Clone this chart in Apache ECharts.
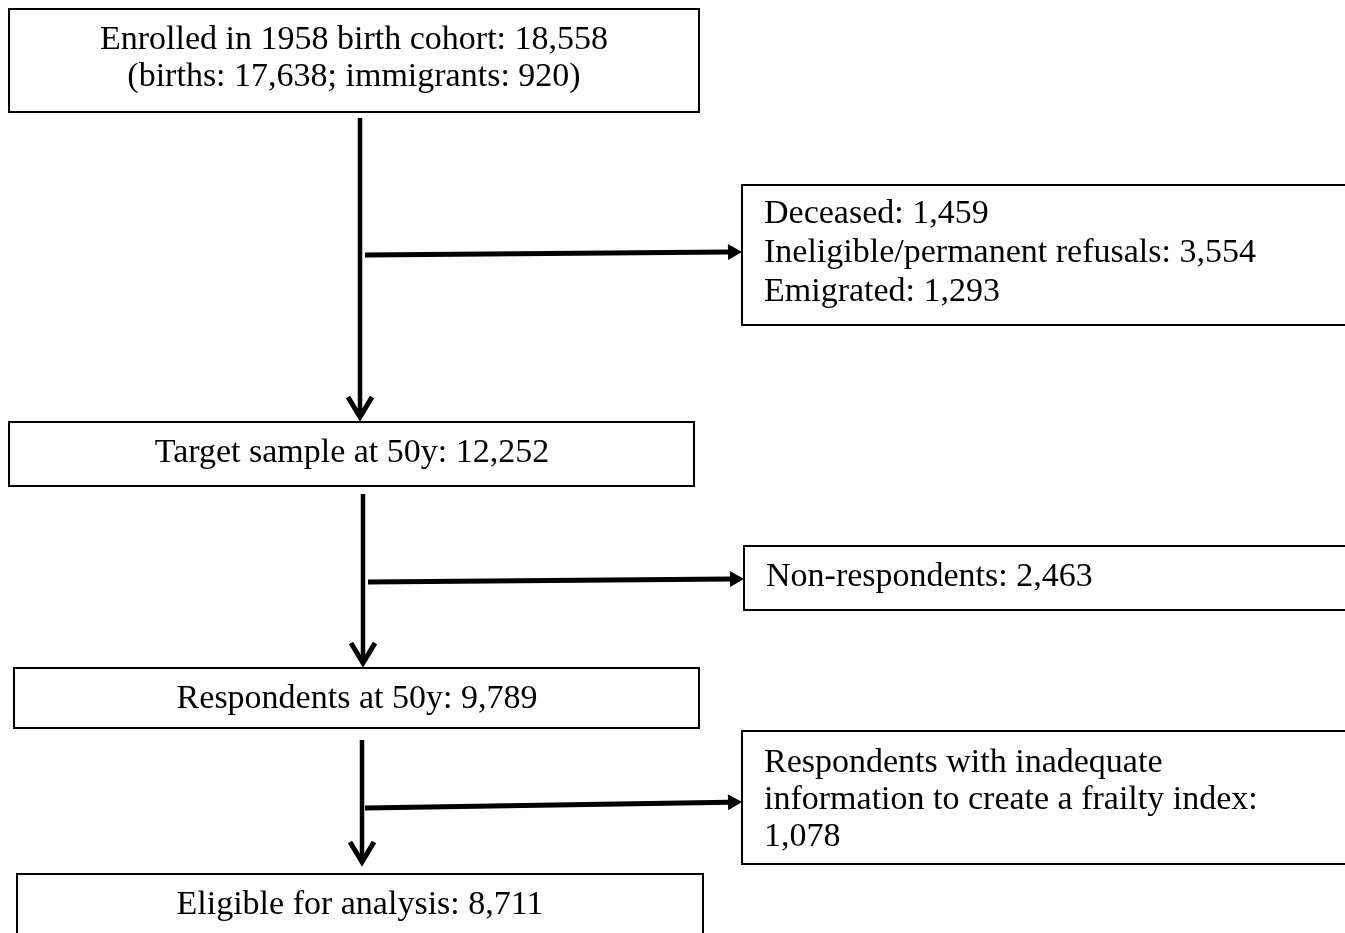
<!DOCTYPE html>
<html>
<head>
<meta charset="utf-8">
<script src="https://cdn.jsdelivr.net/npm/echarts@6/dist/echarts.min.js"></script>
<style>
  html, body { margin: 0; padding: 0; background: #fff; }
  #chart { width: 1345px; height: 933px; }
</style>
</head>
<body>
<div id="chart"></div>
<script>
// counts
var enrolled = 18558, births = 17638, immigrants = 920;
var deceased = 1459, ineligible = 3554, emigrated = 1293;
var targetSample = 12252;
var nonRespondents = 2463;
var respondents = 9789;
var inadequate = 1078;
var eligible = 8711;

function fmt(n) {
    return n.toLocaleString('en-US');
}

var boxTexts = [
    'Enrolled in 1958 birth cohort: ' + fmt(enrolled) + '\n(births: ' + fmt(births) + '; immigrants: ' + fmt(immigrants) + ')',
    'Deceased: ' + fmt(deceased) + '\nIneligible/permanent refusals: ' + fmt(ineligible) + '\nEmigrated: ' + fmt(emigrated),
    'Target sample at 50y: ' + fmt(targetSample),
    'Non-respondents: ' + fmt(nonRespondents),
    'Respondents at 50y: ' + fmt(respondents),
    'Respondents with inadequate\ninformation to create a frailty index:\n' + fmt(inadequate),
    'Eligible for analysis: ' + fmt(eligible)
];

// layout (pixel space of the hidden axes): box corners, text anchor
var boxRects = [
    [9, 9, 699, 112],
    [742, 185, 1352, 325],
    [9, 422, 694, 486],
    [744, 546, 1352, 610],
    [14, 668, 699, 728],
    [742, 731, 1352, 864],
    [17, 874, 703, 940]
];
var textAnchors = [
    [354, 59, 'center', 37],
    [764, 253, 'left', 39],
    [352, 453, 'center', 38],
    [766, 577, 'left', 38],
    [357, 699, 'center', 38],
    [764, 800, 'left', 37],
    [360, 905, 'center', 38]
];
// arrows: x1, y1, x2, y2, head type
var arrows = [
    [360, 118, 360, 420, 'open'],
    [365, 255, 742, 252, 'solid'],
    [363, 494, 363, 666, 'open'],
    [368, 582, 744, 579, 'solid'],
    [362, 740, 362, 865, 'open'],
    [365, 808, 742, 802, 'solid']
];

var myChart = echarts.init(document.getElementById('chart'));

function renderBox(params, api) {
    var i = api.value(0);
    var r = boxRects[i];
    var p1 = api.coord([r[0], r[1]]);
    var p2 = api.coord([r[2], r[3]]);
    var t = textAnchors[i];
    var tp = api.coord([t[0], t[1]]);
    return {
        type: 'group',
        children: [{
            type: 'rect',
            shape: { x: p1[0], y: p1[1], width: p2[0] - p1[0], height: p2[1] - p1[1] },
            style: { fill: '#fff', stroke: '#000', lineWidth: 2 }
        }, {
            type: 'text',
            x: tp[0],
            y: tp[1],
            style: {
                text: boxTexts[i],
                fill: '#000',
                font: '34px "Liberation Serif"',
                align: t[2],
                verticalAlign: 'middle',
                lineHeight: t[3]
            }
        }]
    };
}

function renderArrow(params, api) {
    var a = arrows[api.value(0)];
    var s = api.coord([a[0], a[1]]);
    var e = api.coord([a[2], a[3]]);
    var ang = Math.atan2(e[1] - s[1], e[0] - s[0]);
    var children = [];
    if (a[4] === 'open') {
        var len = 26, spread = 0.48;
        children.push({
            type: 'line',
            shape: { x1: s[0], y1: s[1], x2: e[0], y2: e[1] - 3 },
            style: { stroke: '#000', lineWidth: 4.5 }
        });
        children.push({
            type: 'polyline',
            shape: {
                points: [
                    [e[0] - len * Math.cos(ang - spread), e[1] - len * Math.sin(ang - spread)],
                    [e[0], e[1] - 3],
                    [e[0] - len * Math.cos(ang + spread), e[1] - len * Math.sin(ang + spread)]
                ]
            },
            style: { stroke: '#000', lineWidth: 5, fill: null, lineJoin: 'miter' }
        });
    } else {
        var hl = 14, hw = 8;
        var bx = e[0] - hl * Math.cos(ang), by = e[1] - hl * Math.sin(ang);
        children.push({
            type: 'line',
            shape: { x1: s[0], y1: s[1], x2: bx + 1, y2: by },
            style: { stroke: '#000', lineWidth: 5 }
        });
        children.push({
            type: 'polygon',
            shape: {
                points: [
                    [e[0], e[1]],
                    [bx - hw * Math.sin(ang), by + hw * Math.cos(ang)],
                    [bx + hw * Math.sin(ang), by - hw * Math.cos(ang)]
                ]
            },
            style: { fill: '#000' }
        });
    }
    return { type: 'group', children: children };
}

var option = {
    backgroundColor: '#fff',
    animation: false,
    grid: { left: 0, right: 0, top: 0, bottom: 0 },
    xAxis: { type: 'value', min: 0, max: 1345, show: false },
    yAxis: { type: 'value', min: 0, max: 933, inverse: true, show: false },
    series: [{
        type: 'custom',
        renderItem: renderArrow,
        data: arrows.map(function (a, i) { return [i]; }),
        clip: false,
        silent: true
    }, {
        type: 'custom',
        renderItem: renderBox,
        data: boxRects.map(function (b, i) { return [i]; }),
        clip: false,
        silent: true
    }]
};
myChart.setOption(option);
</script>
</body>
</html>
